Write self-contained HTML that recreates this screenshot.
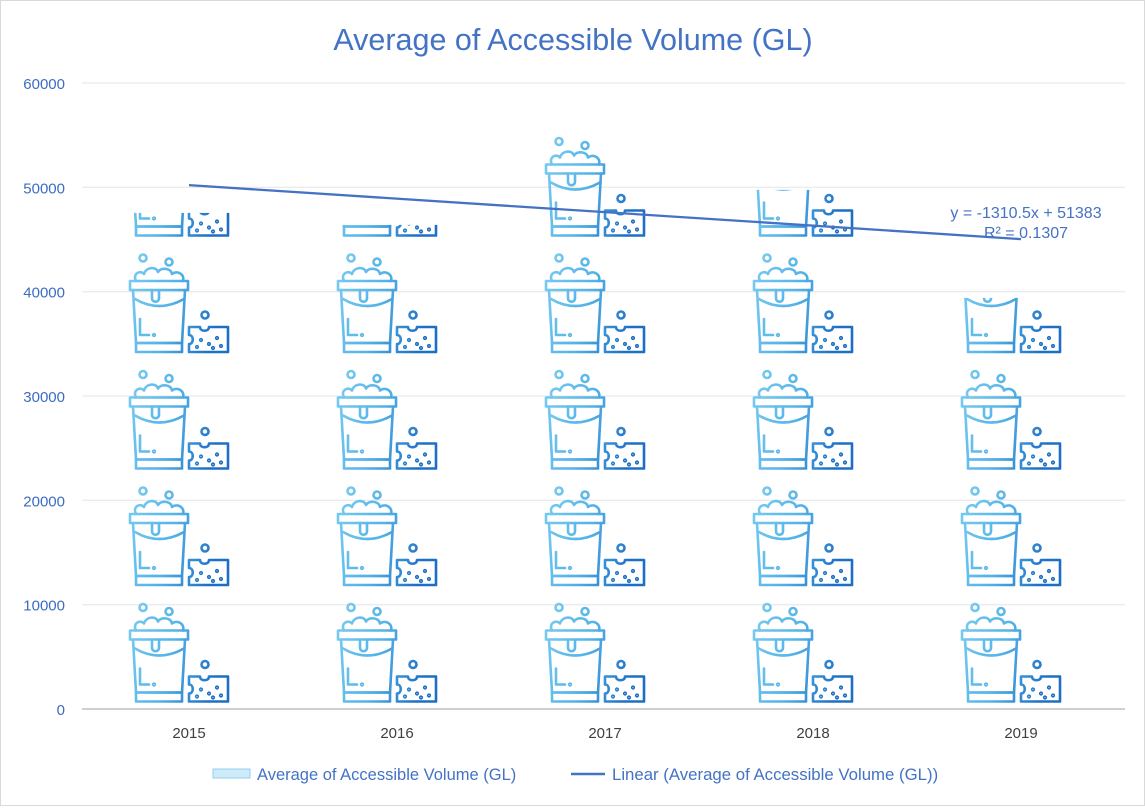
<!DOCTYPE html>
<html><head><meta charset="utf-8"><style>
html,body{margin:0;padding:0;background:#fff;}
body{width:1145px;height:806px;overflow:hidden;font-family:"Liberation Sans",sans-serif;}
</style></head><body>
<svg id="chart" width="1145" height="806" xmlns="http://www.w3.org/2000/svg">
<defs>
<linearGradient id="g" gradientUnits="userSpaceOnUse" x1="0" y1="0" x2="104" y2="30">
<stop offset="0" stop-color="#80d0f2"/><stop offset="0.55" stop-color="#52b2e8"/><stop offset="1" stop-color="#1d6fc6"/>
</linearGradient>
<symbol id="bucket" viewBox="0 0 104 117" overflow="visible">
<g fill="none" stroke="url(#g)" stroke-width="2.6" stroke-linejoin="round" stroke-linecap="round">
<circle cx="16" cy="15" r="3.5"/><circle cx="42" cy="19" r="3.5"/>
<path d="M9 38 C5 30 14 27 17 31 C19 24 29 23 31 29 C34 24 44 25 45 31 C50 27 58 31 56 38"/>
<rect x="3" y="38" width="58" height="9"/>
<path d="M25 47 V55 C25 60 32 60 32 55 V47"/>
<path d="M6 47 L9 100 H55 L58 47"/>
<path d="M8 56 Q32 70 57 56"/>
<path d="M13 76 V92 H22"/><circle cx="27" cy="92" r="0.8"/>
<rect x="9" y="100" width="46" height="9"/>
<circle cx="78" cy="72" r="3.5"/>
<path d="M62 84 H73 C73 89 82 89 82 84 H101 V109 H62 V101 C67 101 67 92 62 92 Z"/>
<circle cx="74" cy="97" r="0.8"/><circle cx="82" cy="101" r="0.8"/><circle cx="90" cy="95" r="0.8"/><circle cx="94" cy="103" r="0.8"/><circle cx="70" cy="104" r="0.8"/><circle cx="86" cy="105" r="0.8"/>
</g>
</symbol>
</defs>
<rect x="0.5" y="0.5" width="1144" height="805" fill="#fff" stroke="#d9d9d9"/>
<text x="573" y="50" text-anchor="middle" font-size="30.5" fill="#4472c4">Average of Accessible Volume (GL)</text>
<g id="grid"></g><g id="bars"></g><g id="trend"></g>
<text x="1026" y="218" text-anchor="middle" font-size="16" fill="#4472c4">y = -1310.5x + 51383</text>
<text x="1026" y="238" text-anchor="middle" font-size="16" fill="#4472c4">R² = 0.1307</text>
<g>
<g>
<rect x="213" y="769" width="37" height="9" fill="#cfeaf8" stroke="#8fd0f0" stroke-width="1"/>
<text x="257" y="780" font-size="16.5" fill="#4472c4">Average of Accessible Volume (GL)</text>
</g>
<g>
<line x1="571" y1="774" x2="605" y2="774" stroke="#4472c4" stroke-width="2.5"/>
<text x="612" y="780" font-size="16.8" fill="#4472c4">Linear (Average of Accessible Volume (GL))</text>
</g>
</g>
</svg>
<script>
const categories = ["2015","2016","2017","2018","2019"];
const values = [47550, 46400, 55000, 49760, 39400];
const yTicks = [0,10000,20000,30000,40000,50000,60000];
const NS="http://www.w3.org/2000/svg";
const plotL=82, plotR=1125, y0=709, yTop=83, yMax=60000, step=208, firstC=189;
const y = v => y0 - v/yMax*(y0-yTop);
const xc = i => firstC + i*step;
const tilePx = 116.5;
function mk(tag, attrs, parent){const e=document.createElementNS(NS,tag);for(const k in attrs)e.setAttribute(k,attrs[k]);parent.appendChild(e);return e;}
const grid=document.getElementById('grid');
yTicks.forEach(t=>{
  if(t>0){const l=mk('line',{x1:plotL,x2:plotR,y1:y(t),y2:y(t),stroke:'#ebebeb','stroke-width':1.3},grid);
  
  }
  const tx=mk('text',{x:65,y:y(t)+6,'text-anchor':'end','font-size':15,fill:'#3d6cc0'},grid);
  tx.textContent=t;
  
  
});
const ax=mk('line',{x1:plotL,x2:plotR,y1:y0,y2:y0,stroke:'#bfbfbf','stroke-width':1.5},grid);


const defs=document.querySelector('defs');
const bars=document.getElementById('bars');
categories.forEach((c,i)=>{
  const cp=mk('clipPath',{id:'clip'+i},defs);
  mk('rect',{x:xc(i)-70,y:y(values[i]),width:140,height:y0-y(values[i])},cp);
  const g=mk('g',{'clip-path':'url(#clip'+i+')'},bars);
  
  
  const n=Math.ceil((y0-y(values[i]))/tilePx);
  for(let k=0;k<n;k++){
    mk('use',{href:'#bucket',x:xc(i)-62,y:y0-(k+1)*tilePx,width:104,height:117},g);
  }
  const tx=mk('text',{x:xc(i),y:738,'text-anchor':'middle','font-size':15,fill:'#404040'},bars);
  tx.textContent=c;
  
  
});
const n=values.length; let sx=0,sy=0,sxy=0,sxx=0;
values.forEach((v,i)=>{const x=i+1;sx+=x;sy+=v;sxy+=x*v;sxx+=x*x;});
const slope=(n*sxy-sx*sy)/(n*sxx-sx*sx), icpt=(sy-slope*sx)/n;
const tl=mk('line',{x1:xc(0),y1:y(slope*1+icpt),x2:xc(n-1),y2:y(slope*n+icpt),stroke:'#4472c4','stroke-width':2.3},document.getElementById('trend'));


</script>
</body></html>
